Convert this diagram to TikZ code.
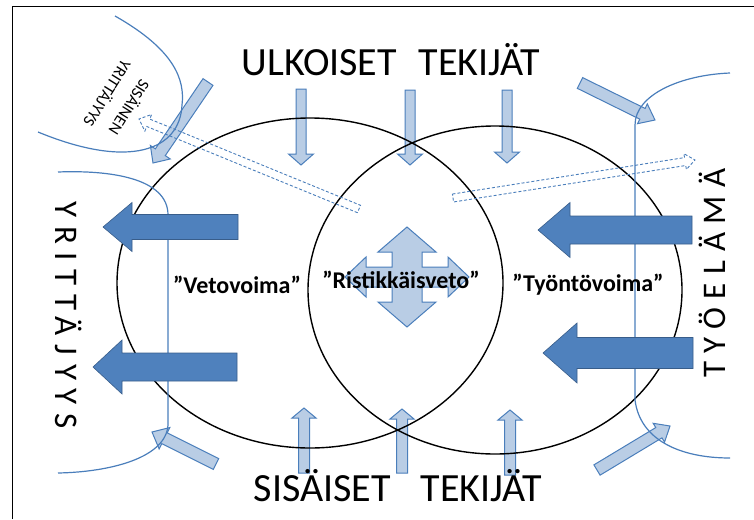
\documentclass[tikz,border=0pt]{standalone}
\usepackage{fontspec}
\setmainfont{Carlito}
\newfontfamily\spacedfont[LetterSpace=26]{Carlito}
\usetikzlibrary{shapes.geometric}
\usetikzlibrary{calc}
\usepackage{xcolor}

\definecolor{fatblue}{HTML}{4F81BD}
\definecolor{fatedge}{HTML}{385D8A}
\definecolor{paleblue}{HTML}{B9CDE5}
\definecolor{paleedge}{HTML}{4A7EBB}

% block arrow: #1 style, #2 tail, #3 tip, #4 half shaft, #5 half head, #6 head length
\newcommand{\blockarrow}[6]{%
  \coordinate (ba-h) at ($#3!#6!#2$);
  \draw[#1] ($#2!#4!90:#3$) -- ($(ba-h)!#4!90:#3$) -- ($(ba-h)!#5!90:#3$) -- #3
    -- ($(ba-h)!#5!-90:#3$) -- ($(ba-h)!#4!-90:#3$) -- ($#2!#4!-90:#3$) -- cycle;}

\begin{document}
\begin{tikzpicture}[x=1pt, y=1pt]
        % ================= 样式 =================
        \tikzset{
            ring/.style={draw=black, line width=1.4pt, ellipse, inner sep=0pt},
            edgecurve/.style={draw=paleedge, line width=1.2pt},
            fatarrow/.style={fill=fatblue, draw=fatedge, line width=0.6pt},
            palearrow/.style={fill=paleblue, draw=paleedge, line width=1pt},
            hollowarrow/.style={draw=paleedge, line width=0.9pt, dash pattern=on 3pt off 2pt},
            bigtext/.style={inner sep=0pt, font=\fontsize{40}{46}\selectfont},
            sidetext/.style={inner sep=0pt, font=\spacedfont\fontsize{33}{40}\selectfont},
            forcetext/.style={inner sep=0pt, font=\bfseries\fontsize{24}{28}\selectfont}
        }
        \useasboundingbox (0,0) rectangle (754,-519);

        % 框线
        \draw[line width=1pt] (12,-519) -- (12,-7) -- (754,-7);

        % ================= 浅色箭头 =================
        \blockarrow{palearrow}{(301,-89)}{(301,-165)}{5pt}{12.5pt}{11pt}
        \blockarrow{palearrow}{(410,-90)}{(410,-165)}{5pt}{12.5pt}{11pt}
        \blockarrow{palearrow}{(507,-90)}{(507,-163)}{5pt}{12.5pt}{11pt}
        \blockarrow{palearrow}{(304,-473)}{(304,-408)}{5.5pt}{12pt}{10pt}
        \blockarrow{palearrow}{(402,-473)}{(402,-409)}{5.5pt}{12pt}{10pt}
        \blockarrow{palearrow}{(510,-475)}{(510,-410)}{5.5pt}{12pt}{10pt}
        % 斜向
        \blockarrow{palearrow}{(208,-82)}{(153,-163)}{6pt}{12pt}{13pt}
        \blockarrow{palearrow}{(580,-83)}{(655,-120)}{6pt}{11pt}{14pt}
        \blockarrow{palearrow}{(216,-464)}{(152,-432)}{6pt}{12pt}{14pt}
        \blockarrow{palearrow}{(597,-470)}{(670,-426)}{6pt}{11pt}{13pt}

        % ================= 两个椭圆 =================
        \node[ring, minimum width=386pt, minimum height=330pt] (pull) at (310,-283) {};
        \node[ring, minimum width=374pt, minimum height=328pt] (push) at (495,-290) {};

        % ================= 蓝色曲线 =================
        \draw[edgecurve] (115,-16) .. controls (175,-50) and (185,-80) .. (182,-105)
            .. controls (180,-150) and (130,-170) .. (38,-132);
        \draw[edgecurve] (58,-172) .. controls (110,-170) and (168,-178) .. (168,-215)
            -- (168,-425) .. controls (166,-458) and (110,-472) .. (58,-473);
        \draw[edgecurve] (730,-73) .. controls (680,-75) and (635,-95) .. (635,-125)
            -- (635,-400) .. controls (640,-440) and (680,-458) .. (730,-458);

        % ================= 深色箭头 =================
        \blockarrow{fatarrow}{(238,-227)}{(103,-227)}{12.5pt}{24.5pt}{29pt}
        \blockarrow{fatarrow}{(237,-367)}{(93,-367)}{14pt}{27pt}{29pt}
        \blockarrow{fatarrow}{(692,-230)}{(538,-230)}{14pt}{27.5pt}{32pt}
        \blockarrow{fatarrow}{(693,-353)}{(543,-353)}{15.5pt}{30pt}{34pt}

        % 十字箭头
        \draw[palearrow, shift={(407,-277)}] (0,50) -- (29,25) -- (15,25) -- (15,10) -- (41,10)
            -- (41,20) -- (62,0) -- (41,-20) -- (41,-10) -- (15,-10) -- (15,-25) -- (29,-25)
            -- (0,-50) -- (-29,-25) -- (-15,-25) -- (-15,-10) -- (-41,-10) -- (-41,-20)
            -- (-62,0) -- (-41,20) -- (-41,10) -- (-15,10) -- (-15,25) -- (-29,25) -- cycle;

        % 虚线箭头
        \blockarrow{hollowarrow}{(359,-209)}{(139,-119)}{4pt}{9pt}{10pt}
        \blockarrow{hollowarrow}{(453,-198)}{(695,-160)}{4pt}{8pt}{10pt}

        % ================= 文字 =================
        \node[bigtext] (outer) at (391,-60) {ULKOISET\hspace{0.55em}TEKIJÄT};
        \node[bigtext] (inner) at (398,-486) {SISÄISET\hspace{0.75em}TEKIJÄT};
        \node[sidetext, rotate=-90] (entre) at (69,-315) {YRITTÄJYYS};
        \node[sidetext, rotate=90] (work) at (712,-273) {TYÖELÄMÄ};
        \node[forcetext] (pulltext) at (237,-285) {”Vetovoima”};
        \node[forcetext] (crosstext) at (401,-280) {”Ristikkäisveto”};
        \node[forcetext] (pushtext) at (588,-285) {”Työntövoima”};
        \node[inner sep=0pt, align=center, rotate=-122, font=\fontsize{16.5}{20}\selectfont]
            (intra) at (119,-101) {SISÄINEN\\[6pt]YRITTÄJYYS};

\end{tikzpicture}
\end{document}
